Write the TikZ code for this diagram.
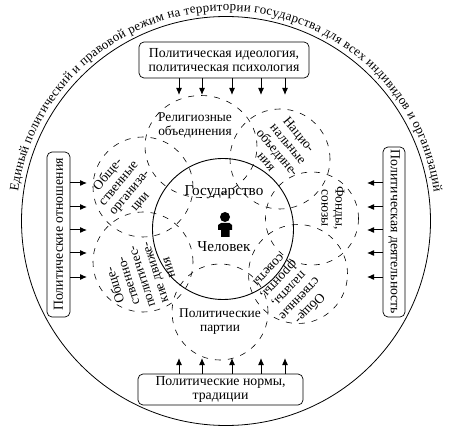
\documentclass[tikz,border=0pt]{standalone}
\usepackage{fontspec}
\setmainfont{Liberation Serif}
\usepackage{tikz}
\usetikzlibrary{arrows.meta,decorations.text,shapes.geometric}

\begin{document}
\begin{tikzpicture}[
  x=1pt, y=1pt,
  box/.style={draw, line width=0.7pt, rounded corners=5pt, align=center, inner sep=0pt, font=\fontsize{13.8}{14}\selectfont},
  org/.style={draw, dash pattern=on 6pt off 7pt, line width=0.6pt, circle, inner sep=0pt},
  lab/.style={align=center, inner sep=0pt, font=\fontsize{13.4}{14}\selectfont},
  arr/.style={-{Latex[length=7pt,width=6pt]}, line width=1pt}
]
\useasboundingbox (0,0) rectangle (450,429);

% outer circle and inscription
\node[draw, circle, line width=0.8pt, inner sep=0pt, minimum size=409pt] (outer) at (226,208) {};
\path[decorate, decoration={text along path, text align={fit to path},
  text={|\fontsize{13}{14}\selectfont|Единый политический и правовой режим на территории государства для всех индивидов и организаций}}]
  (226,208) ++(172:210) arc[start angle=172, end angle=8, radius=210];

% inner circle
\node[draw, circle, line width=0.9pt, inner sep=0pt, minimum size=141pt] (state) at (223,200) {};

% organisations
\node[org, ellipse, minimum width=112pt, minimum height=102pt] (relig) at (201,282.5) {};
\node[org, minimum size=100pt] (nation) at (280,270) {};
\node[org, minimum size=93pt] (fonds) at (312,210.5) {};
\node[org, minimum size=99pt] (sovety) at (298,155) {};
\node[org, minimum size=96pt] (party) at (220,117) {};
\node[org, minimum size=100pt] (moves) at (143,167) {};
\node[org, minimum size=100pt] (socorg) at (143,242) {};

\node[lab] (religlab) at (195,304) {Религиозные\\объединения};
\node[lab, rotate=-50] (nationlab) at (283,281) {Нацио-\\нальные\\объедине-\\ния};
\node[lab, rotate=-90] (fondslab) at (333,221) {Фонды,\\союзы};
\node[lab, rotate=227] (sovetylab) at (290,139) {Обще-\\ственные\\палаты,\\фронты,\\советы};
\node[lab] (partylab) at (220,107) {Политические\\партии};
\node[lab, rotate=108] (moveslab) at (141,152) {Обще-\\ственно-\\политичес-\\кие движе-\\ния};
\node[lab, rotate=50] (socorglab) at (124,241) {Обще-\\ственные\\организа-\\ции};
\node[lab, font=\fontsize{15.2}{16}\selectfont] (statelab) at (224,237) {Государство};
\node[lab, font=\fontsize{15.2}{16}\selectfont] (manlab) at (224,182) {Человек};

% person
\fill (225,212) circle[radius=5pt];
\fill (221,206) -- (229.5,206) -- (232,204) -- (232,199) -- (229.5,199) -- (229.5,192) -- (221,192) -- (221,199) -- (218,199) -- (218,204) -- cycle;

% boxes
\node[box, minimum width=170pt, minimum height=36pt] (ideo) at (224,369) {Политическая идеология,\\политическая психология};
\node[box, minimum width=165pt, minimum height=31pt] (norms) at (220.5,39.5) {Политические нормы,\\традиции};
\node[box, rotate=90, minimum width=165pt, minimum height=23pt] (rel) at (58.5,194.5) {Политические отношения};
\node[box, rotate=-90, minimum width=170pt, minimum height=22pt] (act) at (394,197) {Политическая деятельность};

% arrows
\foreach \x in {179,202,232,261,285} {
  \coordinate (i\x) at (\x,334);
  \coordinate (n\x) at (\x,71);
  \draw[arr] (ideo.south -| i\x) -- (i\x);
  \draw[arr] (norms.north -| n\x) -- (n\x);
}
\foreach \y in {246,222,199,176,152} {
  \coordinate (r\y) at (87,\y);
  \coordinate (a\y) at (367,\y);
  \draw[arr] (rel.south |- r\y) -- (r\y);
  \draw[arr] (act.south |- a\y) -- (a\y);
}
\end{tikzpicture}
\end{document}
